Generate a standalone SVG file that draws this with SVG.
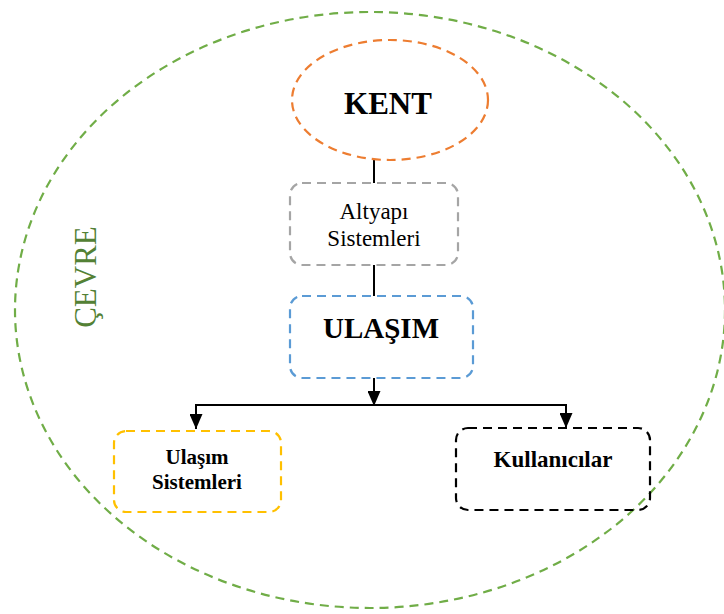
<svg xmlns="http://www.w3.org/2000/svg" width="724" height="614" viewBox="0 0 724 614">
  <style>
    .dash { fill: none; stroke-width: 2.2; stroke-dasharray: 9 6; }
    .conn { fill: none; stroke: #000; stroke-width: 2; }
    .lbl { font-family: 'Liberation Serif', 'Times New Roman', serif; text-anchor: middle; fill: #000; }
    .bold { font-weight: bold; }
  </style>
  <defs>
    <marker id="arrow" markerWidth="15" markerHeight="13" refX="15" refY="6.5" orient="auto" markerUnits="userSpaceOnUse" viewBox="0 0 15 13">
      <path d="M0,0 L15,6.5 L0,13 Z" fill="#000"/>
    </marker>
  </defs>

  <rect width="724" height="614" fill="#fff"/>

  <!-- Environment boundary -->
  <g id="cevre">
    <ellipse class="dash" cx="370" cy="310" rx="355" ry="298" stroke="#70ad47"/>
    <text class="lbl" transform="translate(96,277) rotate(-90)" style="font-size:31px; fill:#538135">ÇEVRE</text>
  </g>

  <!-- Connectors -->
  <g id="connectors">
    <line class="conn" x1="374" y1="160" x2="374" y2="183"/>
    <line class="conn" x1="374" y1="265" x2="374" y2="296"/>
    <line class="conn" x1="374" y1="378" x2="374" y2="406" marker-end="url(#arrow)"/>
    <polyline class="conn" points="196,405 566,405 566,428" marker-end="url(#arrow)"/>
    <line class="conn" x1="196" y1="404" x2="196" y2="429" marker-end="url(#arrow)"/>
  </g>

  <g id="kent">
    <ellipse class="dash" cx="390" cy="100" rx="98" ry="60" stroke="#ed7d31"/>
    <text class="lbl bold" x="388" y="114" style="font-size:31px">KENT</text>
  </g>

  <g id="altyapi">
    <rect class="dash" x="290" y="183" width="168" height="82" rx="12" stroke="#a5a5a5"/>
    <text class="lbl" x="374" y="219" style="font-size:23px">Altyapı</text>
    <text class="lbl" x="374" y="246" style="font-size:23px">Sistemleri</text>
  </g>

  <g id="ulasim">
    <rect class="dash" x="290" y="296" width="183" height="82" rx="12" stroke="#5b9bd5"/>
    <text class="lbl bold" x="381" y="338" style="font-size:29px">ULAŞIM</text>
  </g>

  <g id="ulasim-sistemleri">
    <rect class="dash" x="114" y="431" width="167" height="81" rx="12" stroke="#ffc000"/>
    <text class="lbl bold" x="197" y="464" style="font-size:21px">Ulaşım</text>
    <text class="lbl bold" x="197" y="489" style="font-size:21px">Sistemleri</text>
  </g>

  <g id="kullanicilar">
    <rect class="dash" x="456" y="428" width="194" height="82" rx="12" stroke="#000"/>
    <text class="lbl bold" x="553" y="467" style="font-size:23px">Kullanıcılar</text>
  </g>
</svg>
